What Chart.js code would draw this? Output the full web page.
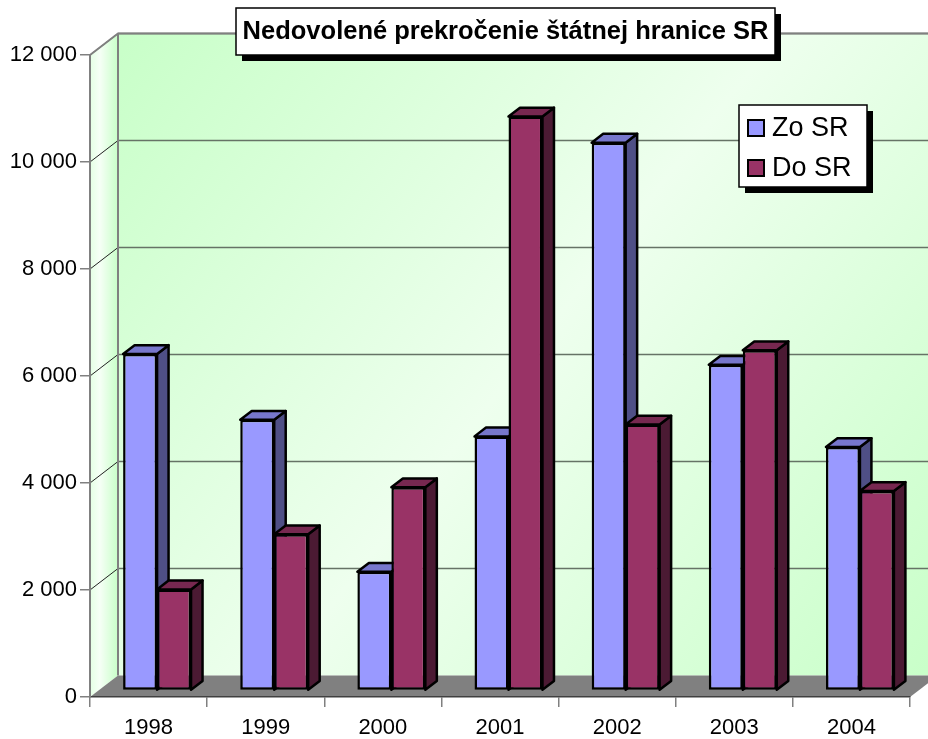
<!DOCTYPE html>
<html>
<head>
<meta charset="utf-8">
<script src="https://cdn.jsdelivr.net/npm/chart.js@4.4.0/dist/chart.umd.min.js"></script>
<style>
html, body { margin: 0; padding: 0; background: #fff; }
</style>
</head>
<body>
<canvas id="hranicaChart" width="928" height="739"></canvas>
<script>
var roky = ['1998', '1999', '2000', '2001', '2002', '2003', '2004'];
var zoSR = [6290, 5060, 2220, 4750, 10240, 6090, 4550];
var doSR = [1890, 2920, 3800, 10730, 4970, 6360, 3730];
var yTicks = [0, 2000, 4000, 6000, 8000, 10000, 12000];
var nadpis = 'Nedovolené prekročenie štátnej hranice SR';

// 3D posuny (px)
var WALL_X = 28, WALL_Y = -21.5;
var BAR_X = 8.5, BAR_Y = -6.5;
var DEPTH_X = 11.5, DEPTH_Y = -8.8;
var FONT = '"Liberation Sans", Arial, sans-serif';

function poly(ctx, pts, fill, stroke, lw) {
    ctx.beginPath();
    ctx.moveTo(pts[0][0], pts[0][1]);
    for (var i = 1; i < pts.length; i++) ctx.lineTo(pts[i][0], pts[i][1]);
    ctx.closePath();
    if (fill) { ctx.fillStyle = fill; ctx.fill(); }
    if (stroke) { ctx.strokeStyle = stroke; ctx.lineWidth = lw || 1; ctx.stroke(); }
}

function formatCislo(v) {
    return String(v).replace(/\B(?=(\d{3})+(?!\d))/g, ' ');
}

var steny = {
    id: 'steny',
    beforeDraw: function(chart) {
        var ctx = chart.ctx, a = chart.chartArea, ys = chart.scales.y;
        var bl = a.left + WALL_X, bt = a.top + WALL_Y, br = a.right + WALL_X, bb = a.bottom + WALL_Y;
        ctx.save();
        // zadna stena
        var g = ctx.createLinearGradient(bl, bt, br, bb);
        g.addColorStop(0, '#c8ffc8');
        g.addColorStop(0.5, '#eeffee');
        g.addColorStop(1, '#c8ffc8');
        ctx.fillStyle = g;
        ctx.fillRect(bl, bt, br - bl, bb - bt);
        // bocna stena
        var g2 = ctx.createLinearGradient(a.left, 0, bl, 0);
        g2.addColorStop(0, '#e4ffe4');
        g2.addColorStop(0.35, '#f6fff6');
        g2.addColorStop(1, '#c8ffc8');
        poly(ctx, [[a.left, a.top], [bl, bt], [bl, bb], [a.left, a.bottom]], g2);

        // mriezka
        ys.ticks.forEach(function(t) {
            if (t.value === 0) return;
            var py = ys.getPixelForValue(t.value);
            ctx.beginPath();
            ctx.moveTo(bl, py + WALL_Y);
            ctx.lineTo(br, py + WALL_Y);
            ctx.strokeStyle = '#667366';
            ctx.lineWidth = 1.5;
            ctx.stroke();
            ctx.beginPath();
            ctx.moveTo(a.left, py);
            ctx.lineTo(bl, py + WALL_Y);
            ctx.strokeStyle = '#222';
            ctx.lineWidth = 1;
            ctx.stroke();
        });

        // podlaha
        poly(ctx, [[a.left, a.bottom], [a.right, a.bottom], [br, bb], [bl, bb]], '#808080');

        // okraje stien
        ctx.beginPath();
        ctx.moveTo(a.left, a.top);
        ctx.lineTo(bl, bt);
        ctx.lineTo(br, bt);
        ctx.moveTo(bl, bt);
        ctx.lineTo(bl, bb);
        ctx.strokeStyle = '#808080';
        ctx.lineWidth = 2;
        ctx.stroke();
        ctx.restore();
    },
    beforeDatasetsDraw: function(chart) {
        var ctx = chart.ctx;
        ctx.save();
        ctx.translate(BAR_X, BAR_Y);
        ctx.lineJoin = 'round';
        chart.data.labels.forEach(function(_, i) {
            chart.data.datasets.forEach(function(ds, di) {
                var bar = chart.getDatasetMeta(di).data[i];
                var p = bar.getProps(['x', 'y', 'base', 'width'], true);
                var l = p.x - p.width / 2, r = p.x + p.width / 2, t = p.y, b = p.base;
                poly(ctx, [[r, t], [r + DEPTH_X, t + DEPTH_Y], [r + DEPTH_X, b + DEPTH_Y], [r, b]], ds.sideColor, '#000', 2.5);
                poly(ctx, [[l, t], [l + DEPTH_X, t + DEPTH_Y], [r + DEPTH_X, t + DEPTH_Y], [r, t]], ds.topColor, '#000', 2.5);
            });
        });
        ctx.restore();
        ctx.save();
        ctx.translate(BAR_X, BAR_Y);
    },
    afterDatasetsDraw: function(chart) {
        chart.ctx.restore();
    },
    afterDraw: function(chart) {
        var ctx = chart.ctx;
        ctx.save();
        // nadpis
        ctx.fillStyle = '#000';
        ctx.fillRect(242, 14, 539, 47);
        ctx.fillStyle = '#fff';
        ctx.fillRect(236, 8, 539, 47);
        ctx.strokeStyle = '#000';
        ctx.lineWidth = 1.5;
        ctx.strokeRect(236, 8, 539, 47);
        ctx.fillStyle = '#000';
        ctx.font = 'bold 25.5px ' + FONT;
        ctx.textAlign = 'center';
        ctx.textBaseline = 'middle';
        ctx.fillText(nadpis, 505.5, 32);

        // legenda
        ctx.fillStyle = '#000';
        ctx.fillRect(745, 111, 128, 82);
        ctx.fillStyle = '#fff';
        ctx.fillRect(739, 105, 128, 82);
        ctx.strokeStyle = '#000';
        ctx.lineWidth = 1.5;
        ctx.strokeRect(739, 105, 128, 82);
        ctx.font = '27px ' + FONT;
        ctx.textAlign = 'left';
        chart.data.datasets.forEach(function(ds, di) {
            var cy = 128 + di * 40;
            ctx.fillStyle = ds.backgroundColor;
            ctx.fillRect(748, cy - 8, 16, 16);
            ctx.lineWidth = 2;
            ctx.strokeRect(748, cy - 8, 16, 16);
            ctx.fillStyle = '#000';
            ctx.fillText(ds.label, 772, cy + 1);
        });
        ctx.restore();
    }
};

Chart.defaults.font.family = FONT;
Chart.defaults.color = '#000';

var ctx = document.getElementById('hranicaChart').getContext('2d');
var hranicaChart = new Chart(ctx, {
    type: 'bar',
    data: {
        labels: roky,
        datasets: [
            {
                label: 'Zo SR',
                data: zoSR,
                backgroundColor: '#9999ff',
                topColor: '#7777cc',
                sideColor: '#4f4f86',
                borderColor: '#000',
                borderWidth: 2.5,
                borderSkipped: false,
                clip: false
            },
            {
                label: 'Do SR',
                data: doSR,
                backgroundColor: '#993366',
                topColor: '#772850',
                sideColor: '#4b1a33',
                borderColor: '#000',
                borderWidth: 2.5,
                borderSkipped: false,
                clip: false
            }
        ]
    },
    options: {
        responsive: false,
        animation: false,
        layout: {
            padding: { top: 55, right: 18, left: 0, bottom: 0 }
        },
        datasets: {
            bar: { categoryPercentage: 0.58, barPercentage: 1.0 }
        },
        plugins: {
            legend: { display: false },
            title: { display: false },
            tooltip: { enabled: false }
        },
        scales: {
            x: {
                afterFit: function(scale) { scale.height = 42; },
                grid: {
                    drawOnChartArea: false,
                    drawTicks: true,
                    tickLength: 10,
                    color: '#808080',
                    lineWidth: 1.5
                },
                border: { display: true, color: '#404040', width: 1.5 },
                ticks: {
                    font: { size: 22 },
                    padding: 8,
                    maxRotation: 0,
                    autoSkip: false
                }
            },
            y: {
                min: 0,
                max: 12000,
                afterFit: function(scale) { scale.width = 90; },
                afterBuildTicks: function(scale) {
                    scale.ticks = yTicks.map(function(v) { return { value: v }; });
                },
                grid: {
                    drawOnChartArea: false,
                    drawTicks: true,
                    tickLength: 10,
                    color: '#808080',
                    lineWidth: 1.5
                },
                border: { display: true, color: '#808080', width: 2 },
                ticks: {
                    font: { size: 22 },
                    padding: 3,
                    callback: function(v) { return formatCislo(v); }
                }
            }
        }
    },
    plugins: [steny]
});
</script>
</body>
</html>
